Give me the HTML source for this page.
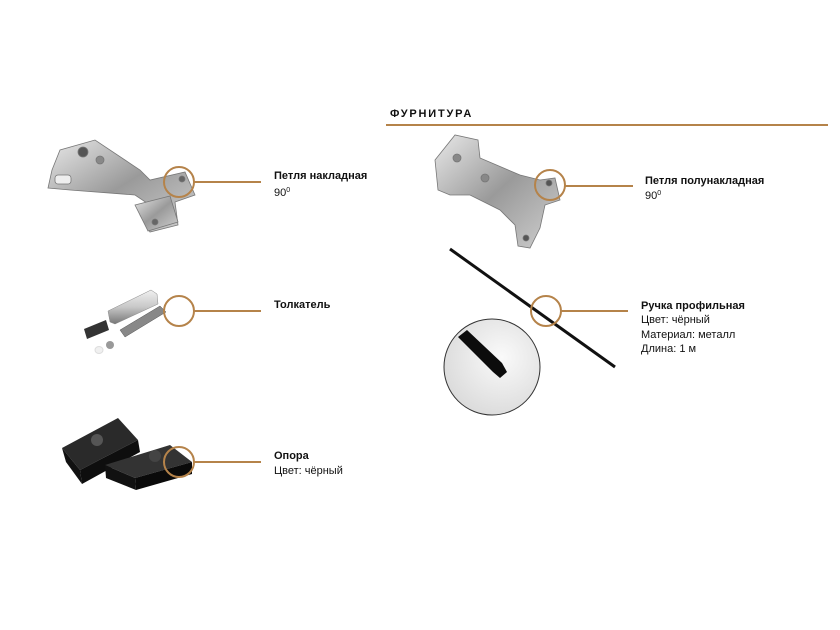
<!DOCTYPE html>
<html><head><meta charset="utf-8"><style>
html,body{margin:0;padding:0;background:#fff;}
svg{display:block;}
text{font-family:"Liberation Sans",sans-serif;fill:#111;}
.b{font-weight:bold;font-size:11px;}
.r{font-size:11px;}
</style></head><body>
<svg width="840" height="630" viewBox="0 0 840 630">
<defs>
<linearGradient id="m" x1="0" y1="0" x2="1" y2="1"><stop offset="0" stop-color="#e8e8e8"/><stop offset="0.5" stop-color="#9a9a9a"/><stop offset="1" stop-color="#d0d0d0"/></linearGradient>
<linearGradient id="c" x1="0" y1="0" x2="0" y2="1"><stop offset="0" stop-color="#f0f0f0"/><stop offset="0.5" stop-color="#c8c8c8"/><stop offset="1" stop-color="#777"/></linearGradient>
<radialGradient id="z" cx="0.6" cy="0.4" r="0.7"><stop offset="0" stop-color="#fafafa"/><stop offset="1" stop-color="#d8d8d8"/></radialGradient>
</defs>
<text x="390" y="117" class="b" style="letter-spacing:1.8px">ФУРНИТУРА</text>
<rect x="386" y="124" width="442" height="2" fill="#b5834a"/>

<!-- hinge 1 -->
<g stroke="#777" stroke-width="0.8" fill="url(#m)">
<path d="M52 170 L60 150 L95 140 L140 170 L150 180 L185 172 L195 195 L175 202 L178 225 L150 232 L140 215 L150 205 L135 195 L70 190 L48 188 Z"/>
<path d="M135 205 L170 196 L178 222 L148 231 Z"/>
<circle cx="83" cy="152" r="5" fill="#555"/>
<circle cx="100" cy="160" r="4" fill="#888"/>
<circle cx="182" cy="179" r="3" fill="#666"/>
<circle cx="155" cy="222" r="3" fill="#666"/>
<rect x="55" y="175" width="16" height="9" rx="3" fill="#eee"/>
</g>
<circle cx="179" cy="182" r="15" fill="none" stroke="#b5834a" stroke-width="2"/>
<rect x="194" y="181" width="67" height="2" fill="#b5834a"/>
<text x="274" y="179" class="b">Петля накладная</text>
<text x="274" y="196" class="r">90<tspan font-size="7" dy="-4">0</tspan></text>

<!-- pusher -->
<g>
<polygon points="84,329 106,320 109,330 87,339" fill="#333"/>
<polygon points="108,311 151,290 157,294 158,304 115,324 110,322" fill="url(#c)" stroke="#888" stroke-width="0.5"/>
<polygon points="120,330 160,306 166,312 125,337" fill="#888" stroke="#555" stroke-width="0.5"/>
<circle cx="110" cy="345" r="4" fill="#999"/>
<ellipse cx="99" cy="350" rx="4" ry="3.5" fill="#f0f0f0" stroke="#ddd"/>
</g>
<circle cx="179" cy="311" r="15" fill="none" stroke="#b5834a" stroke-width="2"/>
<rect x="194" y="310" width="67" height="2" fill="#b5834a"/>
<text x="274" y="308" class="b">Толкатель</text>

<!-- support -->
<g>
<polygon points="62,448 118,418 138,440 80,470" fill="#2a2a2a"/>
<polygon points="62,448 80,470 82,484 66,462" fill="#111"/>
<polygon points="80,470 138,440 140,452 82,484" fill="#0e0e0e"/>
<polygon points="105,465 170,445 192,462 135,478" fill="#333"/>
<polygon points="105,465 135,478 136,490 106,478" fill="#111"/>
<polygon points="135,478 192,462 192,474 136,490" fill="#0a0a0a"/>
<circle cx="97" cy="440" r="6" fill="#555"/>
<circle cx="155" cy="456" r="6" fill="#444"/>
</g>
<circle cx="179" cy="462" r="15" fill="none" stroke="#b5834a" stroke-width="2"/>
<rect x="194" y="461" width="67" height="2" fill="#b5834a"/>
<text x="274" y="459" class="b">Опора</text>
<text x="274" y="474" class="r">Цвет: чёрный</text>

<!-- hinge 2 -->
<g stroke="#777" stroke-width="0.8" fill="url(#m)">
<path d="M435 160 L455 135 L478 140 L480 158 L520 175 L540 180 L555 178 L560 200 L545 205 L540 228 L530 248 L518 246 L515 225 L500 210 L470 195 L450 195 L438 190 Z"/>
<circle cx="457" cy="158" r="4" fill="#888"/>
<circle cx="485" cy="178" r="4" fill="#888"/>
<circle cx="526" cy="238" r="3" fill="#555"/>
<circle cx="549" cy="183" r="3" fill="#555"/>
</g>
<circle cx="550" cy="185" r="15" fill="none" stroke="#b5834a" stroke-width="2"/>
<rect x="565" y="185" width="68" height="2" fill="#b5834a"/>
<text x="645" y="184" class="b">Петля полунакладная</text>
<text x="645" y="199" class="r">90<tspan font-size="7" dy="-4">0</tspan></text>

<!-- handle rod -->
<line x1="450" y1="249" x2="615" y2="367" stroke="#111" stroke-width="3"/>
<circle cx="492" cy="367" r="48" fill="url(#z)" stroke="#333" stroke-width="1"/>
<path d="M458 337 L467 330 L502 363 L507 372 L500 378 L493 372 Z" fill="#0c0c0c"/>
<circle cx="546" cy="311" r="15" fill="none" stroke="#b5834a" stroke-width="2"/>
<rect x="561" y="310" width="67" height="2" fill="#b5834a"/>
<text x="641" y="309" class="b">Ручка профильная</text>
<text x="641" y="323" class="r">Цвет: чёрный</text>
<text x="641" y="338" class="r">Материал: металл</text>
<text x="641" y="352" class="r">Длина: 1 м</text>
</svg>
</body></html>
